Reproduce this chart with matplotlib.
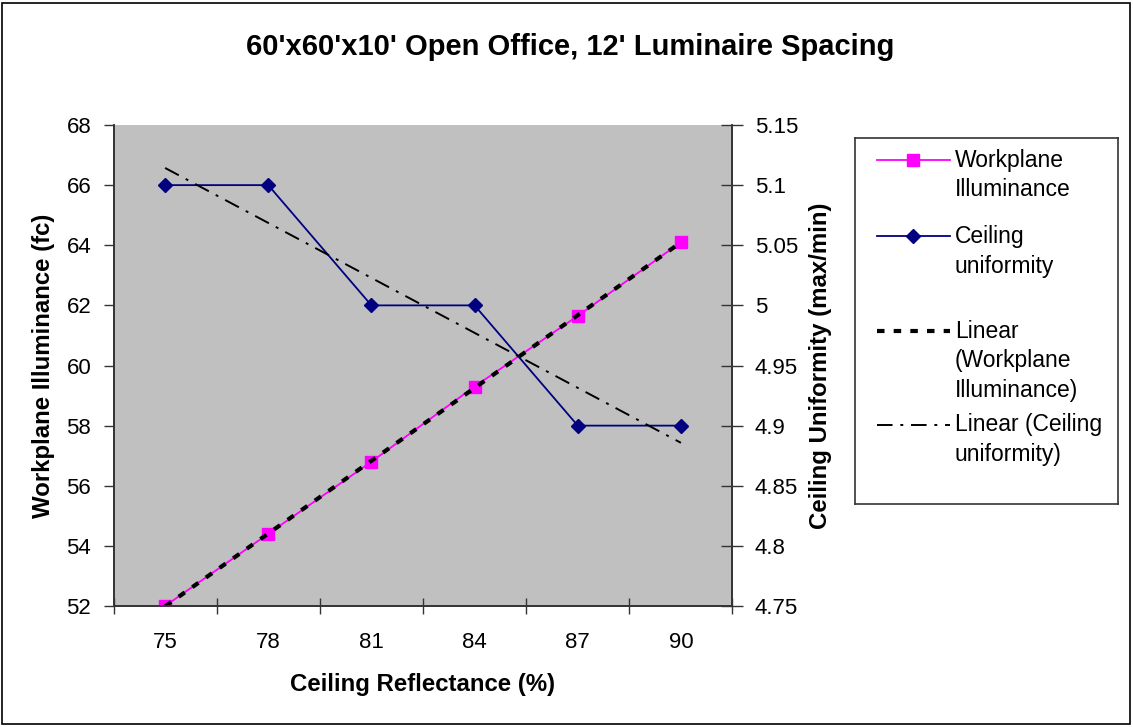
import numpy as np
import matplotlib.pyplot as plt
from matplotlib.patches import Rectangle

plt.rcParams['font.family'] = ['Liberation Sans', 'DejaVu Sans']

# Data
reflectance = ['75', '78', '81', '84', '87', '90']
illuminance = [52.0, 54.4, 56.8, 59.3, 61.65, 64.1]
uniformity = [5.1, 5.1, 5.0, 5.0, 4.9, 4.9]

x = np.arange(len(reflectance))

# Excel style linear trendlines
ill_fit = np.polyfit(x, illuminance, 1)
uni_fit = np.polyfit(x, uniformity, 1)

W, H = 1133, 727
fig = plt.figure(figsize=(W / 100, H / 100), dpi=100)

def fx(px):
    return px / W

def fy(py):
    return 1 - py / H

# chart border
fig.add_artist(Rectangle((fx(2), fy(724)), fx(1128), 721 / H, transform=fig.transFigure,
                         fill=False, edgecolor='black', lw=1.2))

left, right, top, bottom = 113.5, 732.5, 125, 606
ax = fig.add_axes([fx(left), fy(bottom), fx(right - left), (bottom - top) / H])
ax.set_facecolor('#C0C0C0')
ax2 = ax.twinx()

ax.plot(x, illuminance, color='#FF00FF', lw=1.3, marker='s', ms=8, mec='#FF00FF', zorder=3)
ax.plot(x, np.polyval(ill_fit, x), color='black', lw=3, ls=(0, (1.8, 2.2)), zorder=4)
ax2.plot(x, uniformity, color='#000080', lw=1.3, marker='D', ms=7.5, zorder=3)
ax2.plot(x, np.polyval(uni_fit, x), color='black', lw=1.4, ls=(0, (8, 4, 1.5, 4)), zorder=4)

ax.set_xlim(-0.5, len(x) - 0.5)
ax.set_ylim(52, 68)
ax.set_yticks(np.arange(52, 69, 2))
ax2.set_ylim(4.75, 5.15)
ax2.set_yticks([4.75, 4.8, 4.85, 4.9, 4.95, 5.0, 5.05, 5.1, 5.15])
ax2.set_yticklabels(['4.75', '4.8', '4.85', '4.9', '4.95', '5', '5.05', '5.1', '5.15'])

# category ticks between categories, labels at categories
ax.set_xticks(np.arange(-0.5, len(x), 1.0))
ax.set_xticklabels([])
ax.set_xticks(x, minor=True)
ax.set_xticklabels(reflectance, minor=True)
ax.tick_params(axis='x', which='minor', length=0, pad=19, labelsize=16)
ax.tick_params(axis='x', which='major', direction='inout', length=12, width=1, color='#333333')
ax.tick_params(axis='y', direction='out', length=7, width=1, color='#333333', labelsize=16, pad=9)
ax2.tick_params(axis='y', direction='inout', length=16, width=1, color='#333333', labelsize=16, pad=8)

for a in (ax, ax2):
    a.spines['top'].set_visible(False)
    for s in ('left', 'right', 'bottom'):
        a.spines[s].set_color('#333333')
        a.spines[s].set_linewidth(1.2)

ax.set_xlabel('Ceiling Reflectance (%)', fontsize=17.3, fontweight='bold', labelpad=14)
ax.set_ylabel('Workplane Illuminance (fc)', fontsize=17.3, fontweight='bold', labelpad=8)
ax2.set_ylabel('Ceiling Uniformity (max/min)', fontsize=17.3, fontweight='bold', labelpad=8)

fig.text(fx(570), fy(47), "60'x60'x10' Open Office, 12' Luminaire Spacing",
         ha='center', va='center', fontsize=21, fontweight='bold')

# legend box drawn Excel style
lx0, lx1, ly0, ly1 = 855, 1118, 138, 504
lax = fig.add_axes([fx(lx0), fy(ly1), fx(lx1 - lx0), (ly1 - ly0) / H])
lax.set_xlim(lx0, lx1)
lax.set_ylim(ly1, ly0)
lax.set_xticks([])
lax.set_yticks([])
for s in lax.spines.values():
    s.set_color('#333333')
    s.set_linewidth(1.2)

entries = [
    (160, ['Workplane', 'Illuminance'], dict(color='#FF00FF', lw=1.3, marker='s', ms=8)),
    (236, ['Ceiling', 'uniformity'], dict(color='#000080', lw=1.3, marker='D', ms=7.5)),
    (331, ['Linear', '(Workplane', 'Illuminance)'], dict(color='black', lw=3, ls=(0, (1.8, 2.2)))),
    (425, ['Linear (Ceiling', 'uniformity)'], dict(color='black', lw=1.4, ls=(0, (8, 4, 1.5, 4)))),
]
for y0, lines, style in entries:
    marker = style.pop('marker', None)
    ms = style.pop('ms', None)
    lax.plot([877, 950], [y0, y0], **style)
    if marker:
        lax.plot([913], [y0], marker=marker, ms=ms, color=style['color'], ls='none')
    for i, t in enumerate(lines):
        lax.text(955, y0 + 30 * i, t, fontsize=16.5, va='center', ha='left')

fig.savefig('out.png', dpi=100)
